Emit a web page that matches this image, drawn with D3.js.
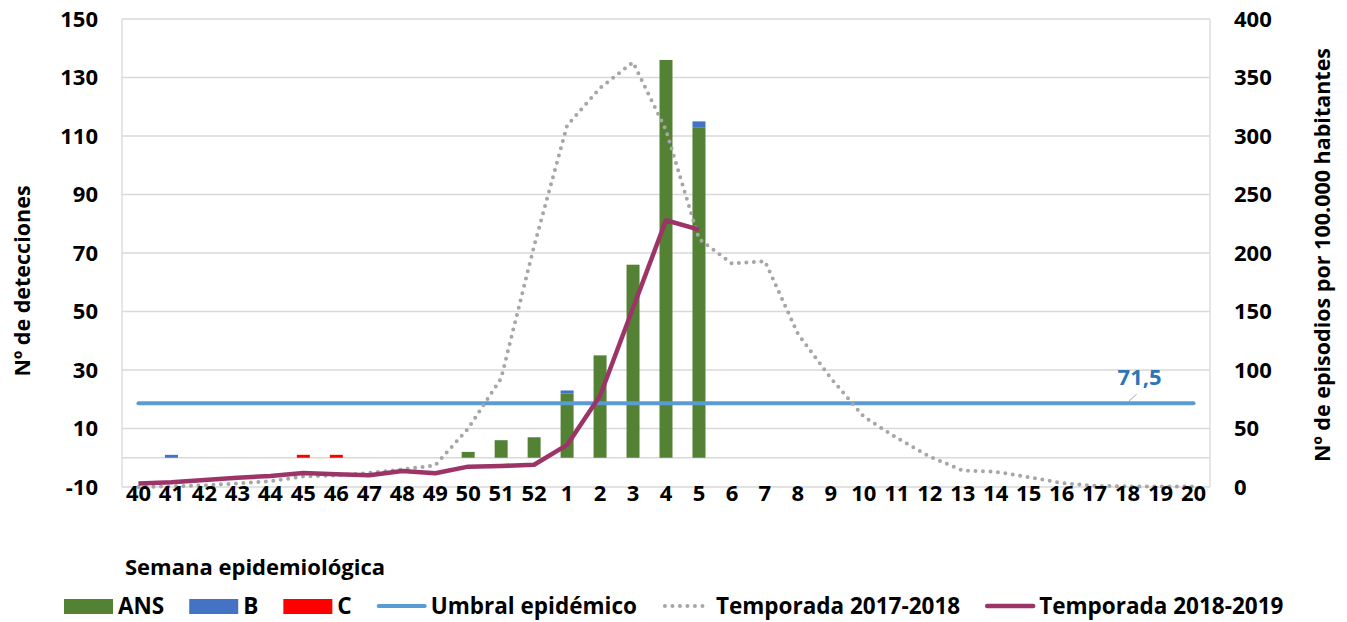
<!DOCTYPE html>
<html>
<head>
<meta charset="utf-8">
<title>Semana epidemiológica</title>
<script src="https://cdn.jsdelivr.net/npm/d3@7"></script>
<style>
  body { margin: 0; background: #fff; }
  svg text { font-family: "Open Sans", sans-serif; font-weight: 700; fill: #000; }
</style>
</head>
<body>
<div id="chart"></div>
<script>
// weeks 40..52 and 1..20
var weeks = ["40","41","42","43","44","45","46","47","48","49","50","51","52",
             "1","2","3","4","5","6","7","8","9","10","11","12","13","14","15","16","17","18","19","20"];

// detections (left axis)
var ans = [0,0,0,0,0,0,0,0,0,0,2,6,7, 22,35,66,136,113];
var bVals = [0,1,0,0,0,0,0,0,0,0,0,0,0, 1,0,0,0,2];
var cVals = [0,0,0,0,0,1,1,0,0,0,0,0,0, 0,0,0,0,0];

// rates (right axis)
var umbral = 71.5;
var t1718 = [0,0.5,1.5,3,5,9,10,12,15,18.5,50,93,206,
             309,341,363,305,212,191,193,131,93,60,42,26,14,13,8.5,3.4,1,0.5,0.5,0.5];
var t1819 = [3,4,6,8,9.5,12,11,10,13.7,11.7,17.4,18,19, 36,78,153,228,220];

var leftTicks = [-10,10,30,50,70,90,110,130,150];
var rightTicks = [0,50,100,150,200,250,300,350,400];

var W = 1347, H = 622;
var svg = d3.select("#chart").append("svg").attr("width", W).attr("height", H);

var x = d3.scaleBand().domain(weeks).range([122, 1210]);
var yL = d3.scaleLinear().domain([-10, 150]).range([487, 19]);
var yR = d3.scaleLinear().domain([0, 400]).range([487, 19]);
var cx = function(w) { return x(w) + x.bandwidth() / 2; };

// gridlines
svg.append("g").selectAll("line")
  .data(leftTicks.concat([0]))
  .enter().append("line")
    .attr("x1", 122).attr("x2", 1210)
    .attr("y1", function(d) { return yL(d); })
    .attr("y2", function(d) { return yL(d); })
    .attr("stroke", "#d9d9d9").attr("stroke-width", 1.3);
svg.append("g").selectAll("line")
  .data([122, 1210])
  .enter().append("line")
    .attr("x1", function(d) { return d; }).attr("x2", function(d) { return d; })
    .attr("y1", 19).attr("y2", 487)
    .attr("stroke", "#d9d9d9").attr("stroke-width", 1.3);

// stacked bars
var barW = 13;
var stackData = weeks.map(function(w, i) {
  return { week: w, ans: ans[i] || 0, b: bVals[i] || 0, c: cVals[i] || 0 };
});
var stack = d3.stack().keys(["ans", "b", "c"])(stackData);
var colors = { ans: "#548235", b: "#4472c4", c: "#ff0000" };
svg.append("g").selectAll("g")
  .data(stack)
  .enter().append("g")
    .attr("fill", function(s) { return colors[s.key]; })
  .selectAll("rect")
  .data(function(s) { return s.filter(function(d) { return d[1] - d[0] > 0; }); })
  .enter().append("rect")
    .attr("x", function(d) { return cx(d.data.week) - barW / 2; })
    .attr("width", barW)
    .attr("y", function(d) { return yL(d[1]); })
    .attr("height", function(d) { return yL(d[0]) - yL(d[1]); });

// umbral line
svg.append("line")
  .attr("x1", cx(weeks[0])).attr("x2", cx(weeks[weeks.length - 1]))
  .attr("y1", yR(umbral)).attr("y2", yR(umbral))
  .attr("stroke", "#5b9bd5").attr("stroke-width", 4).attr("stroke-linecap", "round");

// temporada 2017-2018 (dotted)
var line = d3.line()
  .x(function(d, i) { return cx(weeks[i]); })
  .y(function(d) { return yR(d); });
svg.append("path")
  .attr("d", line(t1718))
  .attr("fill", "none").attr("stroke", "#a6a6a6")
  .attr("stroke-width", 4).attr("stroke-linecap", "round")
  .attr("stroke-dasharray", "0 7.5");

// temporada 2018-2019
svg.append("path")
  .attr("d", line(t1819))
  .attr("fill", "none").attr("stroke", "#9c3468")
  .attr("stroke-width", 4.5).attr("stroke-linejoin", "round");

// umbral label
var lx = cx("18"), ly = yR(umbral);
svg.append("line")
  .attr("x1", lx).attr("y1", ly - 1).attr("x2", lx + 9).attr("y2", ly - 9)
  .attr("stroke", "#a6a6a6").attr("stroke-width", 1);
svg.append("text")
  .attr("x", lx + 12).attr("y", ly - 18)
  .attr("text-anchor", "middle")
  .style("fill", "#2e75b6").style("font-size", "22px")
  .text("71,5");

// left axis labels
svg.append("g").selectAll("text")
  .data(leftTicks)
  .enter().append("text")
    .attr("x", 98).attr("y", function(d) { return yL(d); })
    .attr("dy", "0.35em").attr("text-anchor", "end")
    .style("font-size", "22px")
    .text(function(d) { return d; });

// right axis labels
svg.append("g").selectAll("text")
  .data(rightTicks)
  .enter().append("text")
    .attr("x", 1234).attr("y", function(d) { return yR(d); })
    .attr("dy", "0.35em")
    .style("font-size", "22px")
    .text(function(d) { return d; });

// x axis labels
svg.append("g").selectAll("text")
  .data(weeks)
  .enter().append("text")
    .attr("x", function(d) { return cx(d); }).attr("y", 493)
    .attr("dy", "0.35em").attr("text-anchor", "middle")
    .style("font-size", "22px")
    .text(function(d) { return d; });

// axis titles
svg.append("text")
  .attr("transform", "translate(30,281) rotate(-90)")
  .attr("text-anchor", "middle").style("font-size", "21.5px")
  .text("Nº de detecciones");
svg.append("text")
  .attr("transform", "translate(1330,255) rotate(-90)")
  .attr("text-anchor", "middle").style("font-size", "21.5px")
  .text("Nº de episodios por 100.000 habitantes");
svg.append("text")
  .attr("x", 125).attr("y", 575)
  .style("font-size", "22px")
  .text("Semana epidemiológica");

// legend
var legendItems = [
  { name: "ANS", type: "rect", color: "#548235" },
  { name: "B", type: "rect", color: "#4472c4" },
  { name: "C", type: "rect", color: "#ff0000" },
  { name: "Umbral epidémico", type: "line", color: "#5b9bd5" },
  { name: "Temporada 2017-2018", type: "dots", color: "#a6a6a6" },
  { name: "Temporada 2018-2019", type: "line2", color: "#9c3468" }
];
var lg = svg.append("g");
var pos = 64, legY = 606;
legendItems.forEach(function(it) {
  if (it.type === "rect") {
    lg.append("rect").attr("x", pos).attr("y", legY - 7).attr("width", 49).attr("height", 15)
      .attr("fill", it.color);
  } else if (it.type === "dots") {
    lg.append("line").attr("x1", pos + 3).attr("x2", pos + 48).attr("y1", legY).attr("y2", legY)
      .attr("stroke", it.color).attr("stroke-width", 4).attr("stroke-linecap", "round")
      .attr("stroke-dasharray", "0 7.5");
  } else {
    lg.append("line").attr("x1", pos + 2).attr("x2", pos + 48).attr("y1", legY).attr("y2", legY)
      .attr("stroke", it.color).attr("stroke-width", it.type === "line2" ? 4.5 : 4)
      .attr("stroke-linecap", "round");
  }
  var t = lg.append("text").attr("x", pos + 54).attr("y", legY).attr("dy", "0.35em")
    .style("font-size", "22.5px").text(it.name);
  pos += 54 + t.node().getComputedTextLength() + 25;
});
</script>
</body>
</html>
